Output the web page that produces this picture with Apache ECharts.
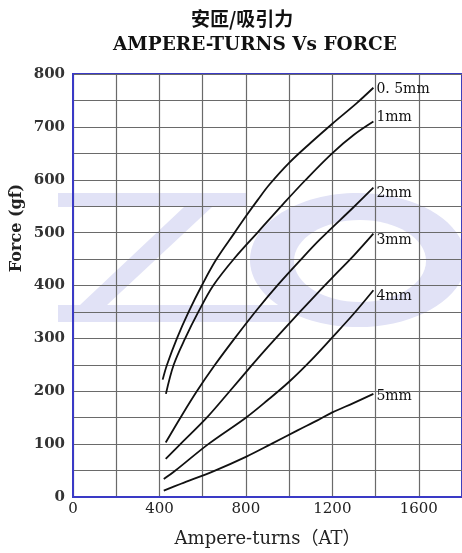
<!DOCTYPE html>
<html>
<head>
<meta charset="utf-8">
<script src="https://cdn.jsdelivr.net/npm/echarts@6/dist/echarts.min.js"></script>
<style>
html,body{margin:0;padding:0;background:#fff;}
#chart{width:462px;height:553px;}
</style>
</head>
<body>
<div id="chart"></div>
<script>
// ---- data ----
const seriesNames = ['0. 5mm', '1mm', '2mm', '3mm', '4mm', '5mm'];
const s05 = [[415,222],[435,250],[481,300],[535,350],[596,400],[664,450],[748,500],[800,531],[855,562],[909,591],[1000,632],[1100,670],[1200,706],[1313,745],[1390,774]];
const s1  = [[430,195],[466,250],[519,300],[580,350],[649,400],[748,452],[860,503],[970,553],[1077,600],[1199,650],[1300,685],[1390,710]];
const s2  = [[429,103],[497,150],[573,200],[657,250],[748,300],[855,356],[950,402],[1050,447],[1145,488],[1298,548],[1390,585]];
const s3  = [[429,72],[497,100],[619,150],[725,200],[825,248],[900,283],[1000,328],[1100,372],[1200,415],[1300,457],[1390,498]];
const s4  = [[420,34],[474,50],[626,100],[800,150],[900,183],[1000,218],[1100,258],[1200,302],[1300,347],[1390,391]];
const s5  = [[420,12],[500,25],[657,50],[800,76],[916,100],[1039,126],[1131,145],[1200,160],[1300,178],[1390,195]];
const xTickLabels = [0, 400, 800, 1200, 1600];
const yTickLabels = [0, 100, 200, 300, 400, 500, 600, 700, 800];

const allData = [s05, s1, s2, s3, s4, s5];
const labelOffsets = [[0,2],[0,-4],[0,6],[0,7],[0,6],[0,2]];

const chart = echarts.init(document.getElementById('chart'), null, {renderer:'canvas'});
const lavender = '#e1e2f6';
const blue = '#3a3ac6';
const gridGray = '#6a6a6a';

const option = {
  backgroundColor: '#fff',
  animation: false,
  title: [
    {text: '安匝/吸引力', left: 186, top: 4,
     textStyle: {fontFamily: 'Noto Sans CJK SC', fontWeight: 'bold', fontSize: 19, color: '#111'}},
    {text: 'AMPERE-TURNS Vs FORCE', left: 108, top: 31,
     textStyle: {fontFamily: 'DejaVu Serif', fontWeight: 'bold', fontSize: 18.5, color: '#111'}}
  ],
  graphic: {
    elements: [
      {type: 'polygon', z: -10, silent: true,
       shape: {points: [[58,193],[247,193],[247,207],[212,207],[107,305],[290,305],[290,322],[58,322],[58,305],[80,305],[184,207],[58,207]]},
       style: {fill: lavender}},
      {type: 'ellipse', z: -10, silent: true, shape: {cx: 358, cy: 260, rx: 108, ry: 67}, style: {fill: lavender}},
      {type: 'ellipse', z: -9, silent: true, shape: {cx: 360, cy: 261, rx: 66, ry: 41}, style: {fill: '#fff'}},
      {type: 'text', z: 10, x: 17, y: 228, rotation: Math.PI / 2,
       style: {text: 'Force (gf)', fontFamily: 'DejaVu Serif', fontWeight: 'bold', fontSize: 16,
               fill: '#222', align: 'center', verticalAlign: 'middle'}}
    ]
  },
  grid: {left: 73, top: 74, width: 393, height: 426, show: true, borderColor: blue, borderWidth: 2, backgroundColor: 'transparent'},
  xAxis: {
    type: 'value', min: 0, max: 1800, interval: 200,
    name: 'Ampere-turns（AT）', nameLocation: 'middle', nameGap: 33,
    nameTextStyle: {fontFamily: 'DejaVu Serif, Noto Sans CJK SC', fontSize: 18, color: '#222'},
    axisLine: {show: true, lineStyle: {color: blue, width: 2}},
    axisTick: {show: false},
    axisLabel: {margin: 5, fontFamily: 'DejaVu Serif', fontSize: 15, color: '#222',
      formatter: v => xTickLabels.indexOf(v) >= 0 ? String(v) : '', showMaxLabel: false},
    splitLine: {show: true, lineStyle: {color: gridGray, width: 1.2}}
  },
  yAxis: {
    type: 'value', min: 0, max: 800, interval: 50,
    axisLine: {show: true, lineStyle: {color: blue, width: 2}},
    axisTick: {show: false},
    axisLabel: {margin: 8, fontFamily: 'DejaVu Serif', fontWeight: 'bold', fontSize: 15, color: '#333',
      formatter: v => yTickLabels.indexOf(v) >= 0 ? String(v) : ''},
    splitLine: {show: true, lineStyle: {color: gridGray, width: 1.2}}
  },
  series: allData.map((d, i) => ({
    name: seriesNames[i],
    type: 'line',
    data: d,
    smooth: 0.35,
    showSymbol: false,
    symbol: 'none',
    lineStyle: {color: '#111', width: 1.8},
    z: 5,
    endLabel: {show: true, formatter: seriesNames[i], distance: 3, offset: labelOffsets[i],
      fontFamily: 'DejaVu Serif', fontSize: 14, color: '#111'}
  }))
};
chart.setOption(option);
</script>
</body>
</html>
